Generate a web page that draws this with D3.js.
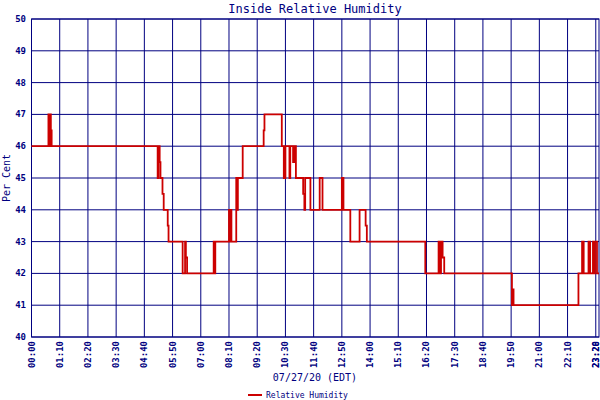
<!DOCTYPE html>
<html><head><meta charset="utf-8">
<script src="https://cdn.jsdelivr.net/npm/d3@7"></script>
<style>body{margin:0;background:#fff}</style></head>
<body><svg id="c" width="600" height="400"></svg>
<script>
const times  = [0,42,44,46,48,50,313,315,318,320,325,328,338,340,375,381,383,386,452,453,454,455,456,490,492,494,496,508,510,512,524,576,578,621,626,630,640,642,649,653,656,674,677,679,692,715,722,770,774,791,814,829,832,977,1010,1013,1016,1020,1024,1192,1194,1196,1357,1366,1370,1382,1386,1393,1396,1398,1403,1408];
const values = [46,47,46,47,46.5,46,45,46,45.5,45,44.5,44,43.5,43,42,43,42.5,42,43,42,43,42,43,44,43,44,43,45,44,45,46,46.5,47,46,45,46,45,46,45.5,46,45,44.5,44,45,44,45,44,45,44,43,44,43.5,43,42,43,42,43,42.5,42,41,41.5,41,42,43,42,43,42,43,42,43,42,42];
const tickMins = [0,70,140,210,280,350,420,490,560,630,700,770,840,910,980,1050,1120,1190,1260,1330,1400];
const tickLabels = ["00:00","01:10","02:20","03:30","04:40","05:50","07:00","08:10","09:20","10:30","11:40","12:50","14:00","15:10","16:20","17:30","18:40","19:50","21:00","22:10","23:20"];
const endLabel = "23:28";
const yTicks = [40,41,42,43,44,45,46,47,48,49,50];

const svg = d3.select("#c");
const navy = "#000080";
const x = d3.scaleLinear().domain([0,1408]).range([31.5,599]);
const y = d3.scaleLinear().domain([40,50]).range([337,19]);
const font = "DejaVu Sans Mono, monospace";

svg.append("g").selectAll("line").data(tickMins).join("line")
  .attr("x1",d=>x(d)).attr("x2",d=>x(d)).attr("y1",19).attr("y2",337)
  .attr("stroke",navy).attr("stroke-width",1);
svg.append("g").selectAll("line").data(yTicks).join("line")
  .attr("x1",31.5).attr("x2",599).attr("y1",d=>y(d)).attr("y2",d=>y(d))
  .attr("stroke",navy).attr("stroke-width",1);
svg.append("rect").attr("x",31.5).attr("y",19).attr("width",567.5).attr("height",318)
  .attr("fill","none").attr("stroke",navy);

svg.append("g").selectAll("text").data(yTicks).join("text")
  .attr("x",26).attr("y",d=>y(d)+3).attr("text-anchor","end")
  .attr("font-family",font).attr("font-size",9).attr("font-weight","bold").attr("fill",navy).text(d=>d);

const xl = svg.append("g");
tickMins.forEach((m,i)=>{
  xl.append("text").attr("transform",`translate(${x(m)+3},341) rotate(-90)`)
    .attr("text-anchor","end").attr("font-family",font).attr("font-size",9).attr("font-weight","bold")
    .attr("fill",navy).text(tickLabels[i]);
});
xl.append("text").attr("transform",`translate(${x(1408)},341) rotate(-90)`)
    .attr("text-anchor","end").attr("font-family",font).attr("font-size",9).attr("font-weight","bold")
    .attr("fill",navy).text(endLabel);

const data = times.map((t,i)=>({t,v:values[i]}));
svg.append("path").datum(data)
  .attr("d",d3.line().x(d=>x(d.t)).y(d=>y(d.v)).curve(d3.curveStepAfter))
  .attr("fill","none").attr("stroke","#cc0000").attr("stroke-width",1.8);

svg.append("text").attr("x",315).attr("y",13).attr("text-anchor","middle")
  .attr("font-family",font).attr("font-size",12).attr("fill",navy).text("Inside Relative Humidity");
svg.append("text").attr("transform","translate(10,178) rotate(-90)").attr("text-anchor","middle")
  .attr("font-family",font).attr("font-size",10).attr("fill",navy).text("Per Cent");
svg.append("text").attr("x",315).attr("y",381).attr("text-anchor","middle")
  .attr("font-family",font).attr("font-size",10).attr("fill",navy).text("07/27/20 (EDT)");
svg.append("line").attr("x1",248).attr("x2",262).attr("y1",395).attr("y2",395).attr("stroke","#cc0000").attr("stroke-width",2);
svg.append("text").attr("x",266).attr("y",398).attr("font-family",font).attr("font-size",8).attr("fill",navy).text("Relative Humidity");
</script></body></html>
